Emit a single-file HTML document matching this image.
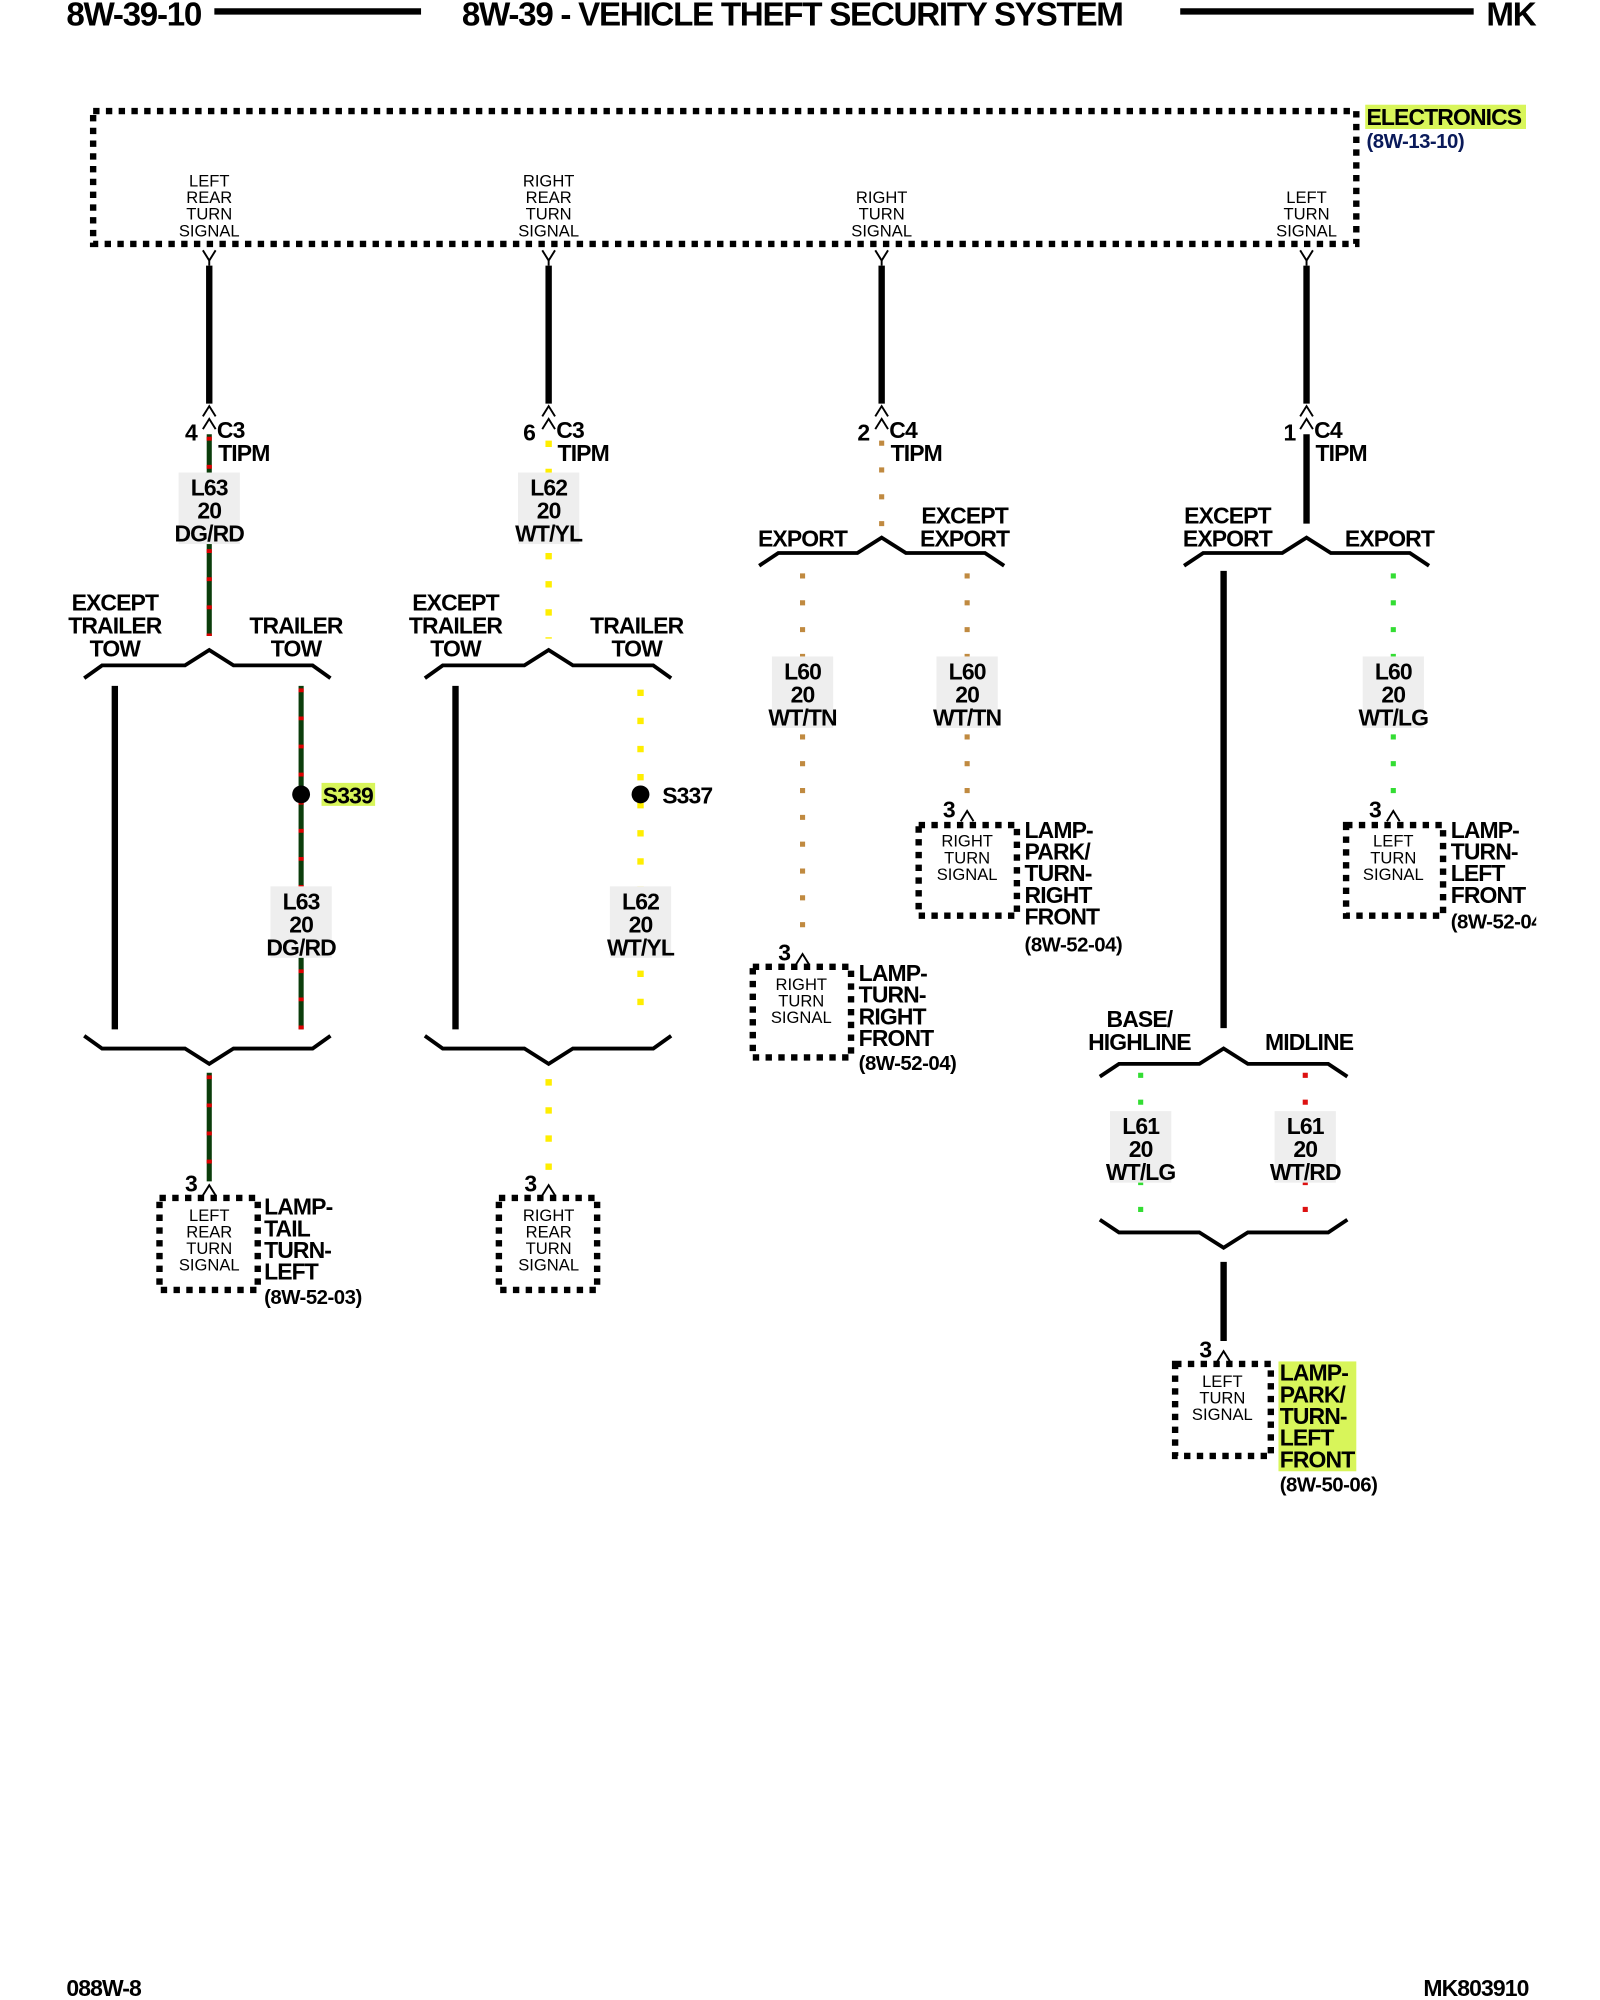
<!DOCTYPE html>
<html><head><meta charset="utf-8"><style>
html,body{margin:0;padding:0;background:#fff;}
svg{display:block;}
text{font-family:"Liberation Sans",Arial,sans-serif;fill:#000;}
.h{font-size:26px;font-weight:bold;letter-spacing:-1px;}
.t{font-size:18px;letter-spacing:-0.7px;font-weight:bold;}
.s{font-size:13px;}
.n{font-size:16px;fill:#0a1a5a;letter-spacing:-0.4px;font-weight:bold;}
.box{fill:none;stroke:#000;stroke-width:5;stroke-dasharray:5 5;}
.w{stroke:#000;stroke-width:5;fill:none;}
.br{stroke:#000;stroke-width:3;fill:none;}
.lb{fill:#eeeeee;}
</style></head><body>
<svg width="1600" height="2000" viewBox="0 0 1254 1566" preserveAspectRatio="none" xmlns="http://www.w3.org/2000/svg">
<text class="h" x="52" y="20">8W-39-10</text>
<line x1="168" y1="9" x2="330" y2="9" stroke="#000" stroke-width="5"/>
<text class="h" x="362" y="20">8W-39 - VEHICLE THEFT SECURITY SYSTEM</text>
<line x1="925" y1="9" x2="1155" y2="9" stroke="#000" stroke-width="5"/>
<text class="h" x="1165" y="20">MK</text>

<rect class="box" x="73" y="87" width="990" height="104"/>
<rect x="1070" y="82" width="126" height="19" fill="#d8f55a"/>
<text class="t" x="1071" y="98">ELECTRONICS</text>
<text class="n" x="1071" y="116">(8W-13-10)</text>

<g class="s" text-anchor="middle">
<text x="164" y="146">LEFT</text><text x="164" y="159">REAR</text><text x="164" y="172">TURN</text><text x="164" y="185">SIGNAL</text>
<text x="430" y="146">RIGHT</text><text x="430" y="159">REAR</text><text x="430" y="172">TURN</text><text x="430" y="185">SIGNAL</text>
<text x="691" y="159">RIGHT</text><text x="691" y="172">TURN</text><text x="691" y="185">SIGNAL</text>
<text x="1024" y="159">LEFT</text><text x="1024" y="172">TURN</text><text x="1024" y="185">SIGNAL</text>
</g>

<g stroke="#000" stroke-width="1.5" fill="none">
<path d="M159 196 L164 204 L169 196 M164 204 V208"/>
<path d="M425 196 L430 204 L435 196 M430 204 V208"/>
<path d="M686 196 L691 204 L696 196 M691 204 V208"/>
<path d="M1019 196 L1024 204 L1029 196 M1024 204 V208"/>
<path d="M159 326 L164 318 L169 326 M159 336 L164 328 L169 336"/>
<path d="M425 326 L430 318 L435 326 M425 336 L430 328 L435 336"/>
<path d="M686 326 L691 318 L696 326 M686 336 L691 328 L696 336"/>
<path d="M1019 326 L1024 318 L1029 326 M1019 336 L1024 328 L1029 336"/>
</g>
<g class="w">
<line x1="164" y1="208" x2="164" y2="316"/>
<line x1="430" y1="208" x2="430" y2="316"/>
<line x1="691" y1="208" x2="691" y2="316"/>
<line x1="1024" y1="208" x2="1024" y2="316"/>
</g>
<g class="t">
<text x="145" y="345">4</text><text x="170" y="343">C3</text><text x="171" y="361">TIPM</text>
<text x="410" y="345">6</text><text x="436" y="343">C3</text><text x="437" y="361">TIPM</text>
<text x="672" y="345">2</text><text x="697" y="343">C4</text><text x="698" y="361">TIPM</text>
<text x="1006" y="345">1</text><text x="1030" y="343">C4</text><text x="1031" y="361">TIPM</text>
</g>

<g>
<line x1="164" y1="340" x2="164" y2="498" stroke="#0b3d0b" stroke-width="4"/>
<line x1="164" y1="342" x2="164" y2="498" stroke="#d00" stroke-width="4" stroke-dasharray="3 19"/>
<line x1="236" y1="537" x2="236" y2="806" stroke="#0b3d0b" stroke-width="4"/>
<line x1="236" y1="539" x2="236" y2="806" stroke="#d00" stroke-width="4" stroke-dasharray="3 19"/>
<line x1="164" y1="840" x2="164" y2="925" stroke="#0b3d0b" stroke-width="4"/>
<line x1="164" y1="842" x2="164" y2="925" stroke="#d00" stroke-width="4" stroke-dasharray="3 19"/>
</g>
<g stroke="#ffee00" stroke-width="5" stroke-dasharray="5 17">
<line x1="430" y1="345" x2="430" y2="500"/>
<line x1="502" y1="540" x2="502" y2="800"/>
<line x1="430" y1="845" x2="430" y2="925"/>
</g>
<g stroke="#c08a40" stroke-width="4" stroke-dasharray="4 17">
<line x1="691" y1="345" x2="691" y2="412"/>
<line x1="629" y1="449" x2="629" y2="740"/>
<line x1="758" y1="449" x2="758" y2="625"/>
</g>
<line x1="1024" y1="340" x2="1024" y2="410" class="w"/>
<line x1="959" y1="447" x2="959" y2="805" class="w"/>
<line x1="959" y1="988" x2="959" y2="1050" class="w"/>
<g stroke="#33dd33" stroke-width="4" stroke-dasharray="4 17">
<line x1="1092" y1="449" x2="1092" y2="625"/>
<line x1="894" y1="840" x2="894" y2="955"/>
</g>
<line x1="1023" y1="840" x2="1023" y2="955" stroke="#dd1111" stroke-width="4" stroke-dasharray="4 17"/>
<line x1="90" y1="537" x2="90" y2="806" class="w"/>
<line x1="357" y1="537" x2="357" y2="806" class="w"/>

<g class="br">
<polyline points="66,531 80,521 145,521 164,509 183,521 245,521 259,531"/>
<polyline points="66,811 80,821 145,821 164,833 183,821 245,821 259,811"/>
<polyline points="333,531 347,521 411,521 430,509 449,521 512,521 526,531"/>
<polyline points="333,811 347,821 411,821 430,833 449,821 512,821 526,811"/>
<polyline points="595,443 610,433 672,433 691,421 710,433 772,433 787,443"/>
<polyline points="928,443 943,433 1005,433 1024,421 1043,433 1105,433 1120,443"/>
<polyline points="862,843 877,833 940,833 959,821 978,833 1041,833 1056,843"/>
<polyline points="862,955 877,965 940,965 959,977 978,965 1041,965 1056,955"/>
</g>

<g class="lb">
<rect x="140" y="370" width="48" height="56"/>
<rect x="406" y="370" width="48" height="56"/>
<rect x="212" y="694" width="48" height="56"/>
<rect x="478" y="694" width="48" height="56"/>
<rect x="605" y="514" width="48" height="56"/>
<rect x="734" y="514" width="48" height="56"/>
<rect x="1068" y="514" width="48" height="56"/>
<rect x="870" y="870" width="48" height="56"/>
<rect x="999" y="870" width="48" height="56"/>
</g>
<g class="t" text-anchor="middle">
<text x="164" y="388">L63</text><text x="164" y="406">20</text><text x="164" y="424">DG/RD</text>
<text x="430" y="388">L62</text><text x="430" y="406">20</text><text x="430" y="424">WT/YL</text>
<text x="236" y="712">L63</text><text x="236" y="730">20</text><text x="236" y="748">DG/RD</text>
<text x="502" y="712">L62</text><text x="502" y="730">20</text><text x="502" y="748">WT/YL</text>
<text x="629" y="532">L60</text><text x="629" y="550">20</text><text x="629" y="568">WT/TN</text>
<text x="758" y="532">L60</text><text x="758" y="550">20</text><text x="758" y="568">WT/TN</text>
<text x="1092" y="532">L60</text><text x="1092" y="550">20</text><text x="1092" y="568">WT/LG</text>
<text x="894" y="888">L61</text><text x="894" y="906">20</text><text x="894" y="924">WT/LG</text>
<text x="1023" y="888">L61</text><text x="1023" y="906">20</text><text x="1023" y="924">WT/RD</text>
<text x="90" y="478">EXCEPT</text><text x="90" y="496">TRAILER</text><text x="90" y="514">TOW</text>
<text x="232" y="496">TRAILER</text><text x="232" y="514">TOW</text>
<text x="357" y="478">EXCEPT</text><text x="357" y="496">TRAILER</text><text x="357" y="514">TOW</text>
<text x="499" y="496">TRAILER</text><text x="499" y="514">TOW</text>
<text x="629" y="428">EXPORT</text>
<text x="756" y="410">EXCEPT</text><text x="756" y="428">EXPORT</text>
<text x="962" y="410">EXCEPT</text><text x="962" y="428">EXPORT</text>
<text x="1089" y="428">EXPORT</text>
<text x="893" y="804">BASE/</text><text x="893" y="822">HIGHLINE</text>
<text x="1026" y="822">MIDLINE</text>
</g>

<circle cx="236" cy="622" r="7" fill="#000"/>
<rect x="252" y="613" width="42" height="18" fill="#d8f55a"/>
<text class="t" x="253" y="629">S339</text>
<circle cx="502" cy="622" r="7" fill="#000"/>
<text class="t" x="519" y="629">S337</text>

<g stroke="#000" stroke-width="1.5" fill="none">
<path d="M159 936 L164 928 L169 936"/>
<path d="M425 936 L430 928 L435 936"/>
<path d="M624 755 L629 747 L634 755"/>
<path d="M753 643 L758 635 L763 643"/>
<path d="M1087 643 L1092 635 L1097 643"/>
<path d="M954 1066 L959 1058 L964 1066"/>
</g>
<g class="t">
<text x="145" y="933">3</text><text x="411" y="933">3</text>
<text x="610" y="752">3</text><text x="739" y="640">3</text>
<text x="1073" y="640">3</text><text x="940" y="1063">3</text>
</g>
<g class="box">
<rect x="125" y="938" width="77" height="72"/>
<rect x="391" y="938" width="77" height="72"/>
<rect x="590" y="757" width="77" height="71"/>
<rect x="720" y="646" width="77" height="71"/>
<rect x="1055" y="646" width="76" height="71"/>
<rect x="921" y="1068" width="75" height="72"/>
</g>
<g class="s" text-anchor="middle">
<text x="164" y="956">LEFT</text><text x="164" y="969">REAR</text><text x="164" y="982">TURN</text><text x="164" y="995">SIGNAL</text>
<text x="430" y="956">RIGHT</text><text x="430" y="969">REAR</text><text x="430" y="982">TURN</text><text x="430" y="995">SIGNAL</text>
<text x="628" y="775">RIGHT</text><text x="628" y="788">TURN</text><text x="628" y="801">SIGNAL</text>
<text x="758" y="663">RIGHT</text><text x="758" y="676">TURN</text><text x="758" y="689">SIGNAL</text>
<text x="1092" y="663">LEFT</text><text x="1092" y="676">TURN</text><text x="1092" y="689">SIGNAL</text>
<text x="958" y="1086">LEFT</text><text x="958" y="1099">TURN</text><text x="958" y="1112">SIGNAL</text>
</g>
<g class="t">
<text x="207" y="951">LAMP-</text><text x="207" y="968">TAIL</text><text x="207" y="985">TURN-</text><text x="207" y="1002">LEFT</text>
<text x="673" y="768">LAMP-</text><text x="673" y="785">TURN-</text><text x="673" y="802">RIGHT</text><text x="673" y="819">FRONT</text>
<text x="803" y="656">LAMP-</text><text x="803" y="673">PARK/</text><text x="803" y="690">TURN-</text><text x="803" y="707">RIGHT</text><text x="803" y="724">FRONT</text>
<text x="1137" y="656">LAMP-</text><text x="1137" y="673">TURN-</text><text x="1137" y="690">LEFT</text><text x="1137" y="707">FRONT</text>
</g>
<rect x="1002" y="1066" width="61" height="86" fill="#d8f55a"/>
<g class="t">
<text x="1003" y="1081">LAMP-</text><text x="1003" y="1098">PARK/</text><text x="1003" y="1115">TURN-</text><text x="1003" y="1132">LEFT</text><text x="1003" y="1149">FRONT</text>
</g>
<g class="n">
<text x="207" y="1021">(8W-52-03)</text>
<text x="673" y="838">(8W-52-04)</text>
<text x="803" y="745">(8W-52-04)</text>
<text x="1137" y="727">(8W-52-04)</text>
<text x="1003" y="1168">(8W-50-06)</text>
</g>
<rect x="1204" y="700" width="50" height="40" fill="#fff"/>

<text class="t" x="52" y="1563">088W-8</text>
<text class="t" x="1198" y="1563" text-anchor="end">MK803910</text>
</svg>
</body></html>
